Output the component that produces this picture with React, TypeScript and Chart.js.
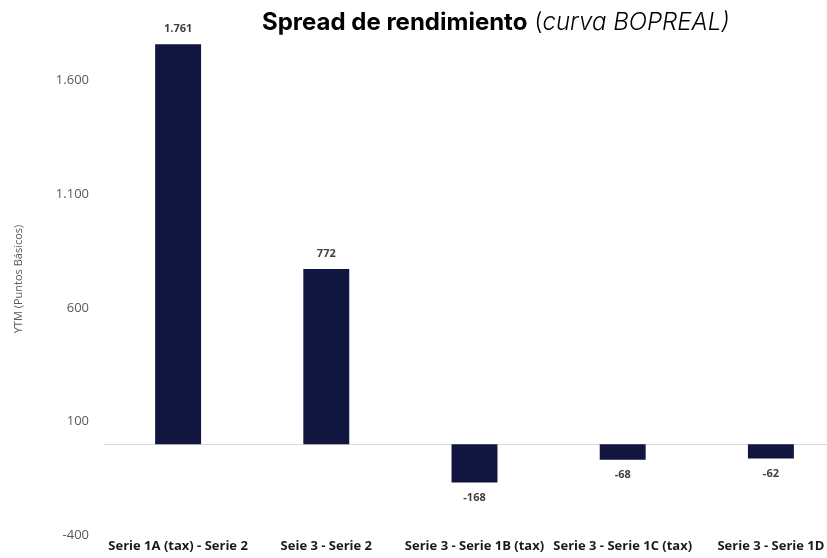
import React, { useEffect, useRef } from "react";
import { Chart, registerables } from "chart.js";

Chart.register(...registerables);

const categories = [
  "Serie 1A (tax) - Serie 2",
  "Seie 3 - Serie 2",
  "Serie 3 - Serie 1B (tax)",
  "Serie 3 - Serie 1C (tax)",
  "Serie 3 - Serie 1D",
];
const spreads = [1761, 772, -168, -68, -62];
const yTicks = [-400, 100, 600, 1100, 1600];

const fmt = (v: number) =>
  Math.round(v)
    .toString()
    .replace(/\B(?=(\d{3})+(?!\d))/g, ".");

const zeroLinePlugin = {
  id: "zeroLine",
  beforeDatasetsDraw(chart: any) {
    const { ctx, chartArea, scales } = chart;
    const y = Math.round(scales.y.getPixelForValue(0)) + 0.5;
    ctx.save();
    ctx.strokeStyle = "#d9d9d9";
    ctx.lineWidth = 1;
    ctx.beginPath();
    ctx.moveTo(chartArea.left, y);
    ctx.lineTo(chartArea.right, y);
    ctx.stroke();
    ctx.restore();
  },
};

const valueLabelPlugin = {
  id: "valueLabels",
  afterDatasetsDraw(chart: any) {
    const { ctx } = chart;
    const meta = chart.getDatasetMeta(0);
    const data = chart.data.datasets[0].data as number[];
    ctx.save();
    ctx.font = "bold 11px 'Open Sans'";
    ctx.fillStyle = "#404040";
    ctx.textAlign = "center";
    ctx.textBaseline = "middle";
    meta.data.forEach((bar: any, i: number) => {
      const v = data[i];
      const y = v >= 0 ? bar.y - 15 : bar.y + 15;
      ctx.fillText(fmt(v), bar.x, y);
    });
    ctx.restore();
  },
};

export default function App() {
  const ref = useRef<HTMLCanvasElement | null>(null);

  useEffect(() => {
    if (!ref.current) return;
    const chart = new Chart(ref.current, {
      type: "bar",
      data: {
        labels: categories,
        datasets: [
          {
            data: spreads,
            backgroundColor: "#111641",
            borderWidth: 0,
            barPercentage: 0.31,
            categoryPercentage: 1,
          },
        ],
      },
      options: {
        animation: false,
        responsive: false,
        maintainAspectRatio: false,
        layout: { padding: { left: 0, right: 0, top: 0, bottom: 0 } },
        plugins: {
          legend: { display: false },
          tooltip: { enabled: false },
          title: { display: false },
        },
        scales: {
          x: {
            grid: { display: false, drawTicks: false },
            border: { display: false },
            ticks: {
              color: "#1a1a1a",
              font: { family: "'Open Sans'", size: 13, weight: "bold" },
              padding: 3,
              maxRotation: 0,
              autoSkip: false,
            },
            afterFit: (s: any) => {
              s.height = 21;
            },
          },
          y: {
            min: -400,
            max: 1855,
            grid: { display: false, drawTicks: false },
            border: { display: false },
            afterBuildTicks: (s: any) => {
              s.ticks = yTicks.map((v) => ({ value: v }));
            },
            afterFit: (s: any) => {
              s.width = 104;
            },
            ticks: {
              color: "#595959",
              font: { family: "'Open Sans'", size: 13 },
              padding: 15,
              callback: (v: any) => fmt(Number(v)),
            },
            title: {
              display: true,
              text: "YTM (Puntos Básicos)",
              color: "#595959",
              font: { family: "'Open Sans'", size: 11 },
              padding: { top: 12, bottom: 0 },
            },
          },
        },
      },
      plugins: [zeroLinePlugin, valueLabelPlugin],
    });
    return () => chart.destroy();
  }, []);

  return (
    <div
      style={{
        position: "fixed",
        left: 0,
        top: 0,
        width: 827,
        height: 558,
        overflow: "hidden",
        background: "#ffffff",
      }}
    >
      <canvas ref={ref} width={845} height={558} style={{ display: "block" }} />
      <div
        style={{
          position: "absolute",
          left: 262,
          top: 7,
          fontFamily: "Inter, 'Noto Sans', sans-serif",
          fontSize: 24,
          color: "#000000",
          whiteSpace: "nowrap",
          lineHeight: "30px",
        }}
      >
        <span style={{ fontWeight: 700 }}>Spread de rendimiento</span>{" "}
        <span style={{ fontWeight: 300 }}>(</span>
        <span style={{ fontStyle: "italic", fontWeight: 300 }}>curva BOPREAL)</span>
      </div>
    </div>
  );
}
